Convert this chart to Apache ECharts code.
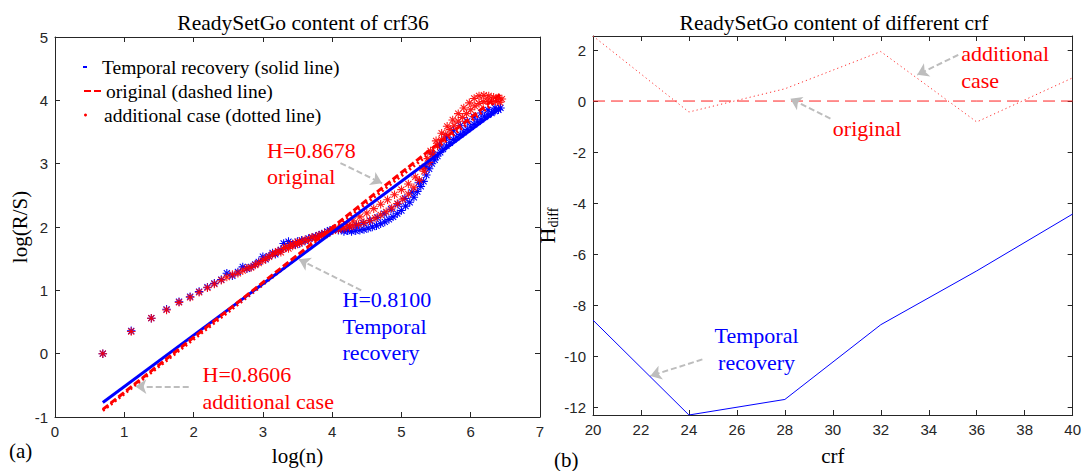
<!DOCTYPE html>
<html><head><meta charset="utf-8">
<script src="https://cdn.jsdelivr.net/npm/echarts@6/dist/echarts.min.js"></script>
<style>html,body{margin:0;padding:0;background:#fff}#c{width:1084px;height:471px}</style>
</head><body><div id="c"></div>
<script>
// ===== data: panel (a) =====
const temporalPoints = [
 [0.69,0.00],[1.10,0.36],[1.39,0.56],[1.61,0.70],[1.79,0.82],[1.95,0.90],[2.08,0.98],[2.20,1.05],[2.30,1.11],[2.40,1.17],
 [2.48,1.27],[2.56,1.23],[2.64,1.29],[2.71,1.37],[2.77,1.34],[2.83,1.37],[2.89,1.41],[2.94,1.45],[3.00,1.53],[3.04,1.49],
 [3.09,1.54],[3.14,1.59],[3.18,1.57],[3.22,1.61],[3.26,1.64],[3.30,1.74],[3.33,1.67],[3.37,1.77],[3.40,1.71],[3.43,1.73],
 [3.47,1.72],[3.50,1.77],[3.53,1.74],[3.56,1.79],[3.61,1.78],[3.66,1.82],[3.71,1.83],[3.76,1.85],[3.81,1.87],[3.85,1.89],
 [3.89,1.90],[3.93,1.93],[3.97,1.95],[4.01,1.96],[4.05,1.97],[4.09,1.95],[4.13,1.97],[4.17,1.93],
 [4.22,1.94],[4.28,1.93],[4.34,1.94],[4.40,1.95],[4.46,1.96],[4.52,1.98],[4.58,2.00],[4.64,2.02],[4.70,2.05],[4.76,2.08],
 [4.82,2.12],[4.88,2.16],[4.94,2.21],[5.00,2.26],[5.06,2.33],[5.12,2.39],[5.18,2.47],[5.23,2.56],[5.28,2.64],[5.32,2.72],
 [5.36,2.82],[5.40,2.92],[5.44,3.00],[5.48,3.06],[5.52,3.12],[5.56,3.18],[5.60,3.23],[5.65,3.28],[5.70,3.33],[5.75,3.38],
 [5.80,3.42],[5.85,3.46],[5.90,3.50],[5.95,3.54],[6.00,3.58],[6.05,3.62],[6.10,3.66],[6.15,3.70],[6.20,3.74],[6.25,3.77],
 [6.30,3.80],[6.35,3.83],[6.40,3.85],
 [4.25,2.00],[4.35,2.03],[4.45,2.06],[4.55,2.10],[4.65,2.15],[4.75,2.21],[4.85,2.28],[4.95,2.36],[5.05,2.45],[5.15,2.55],
 [5.25,2.70],[5.35,2.95],[5.45,3.15],[5.55,3.30],[5.65,3.42],[5.75,3.52],[5.85,3.60],[5.95,3.67],[6.05,3.74],[6.15,3.80],
 [6.25,3.85],[6.35,3.88],[6.43,3.88]
];
const originalPoints = [
 [0.69,0.00],[1.10,0.35],[1.39,0.56],[1.61,0.69],[1.79,0.81],[1.95,0.89],[2.08,0.97],[2.20,1.04],[2.30,1.10],[2.40,1.16],
 [2.48,1.21],[2.56,1.25],[2.64,1.27],[2.71,1.31],[2.77,1.35],[2.83,1.36],[2.89,1.40],[2.94,1.43],[3.00,1.47],[3.04,1.50],
 [3.09,1.53],[3.14,1.57],[3.18,1.59],[3.22,1.62],[3.26,1.60],[3.30,1.66],[3.33,1.68],[3.37,1.66],[3.40,1.72],[3.43,1.70],
 [3.47,1.75],[3.50,1.73],[3.53,1.77],[3.56,1.76],[3.61,1.80],[3.66,1.79],[3.71,1.84],[3.76,1.83],[3.81,1.87],[3.85,1.86],
 [3.89,1.90],[3.93,1.89],[3.97,1.93],[4.01,1.94],[4.05,1.98],[4.09,1.96],[4.13,2.00],[4.17,1.98],[4.21,2.04],[4.25,2.00],
 [4.30,2.02],[4.38,2.04],[4.46,2.07],[4.54,2.10],[4.62,2.14],[4.70,2.19],[4.78,2.24],[4.86,2.30],[4.94,2.37],[5.02,2.44],
 [5.10,2.52],[5.18,2.62],[5.26,2.74],[5.33,2.88],[5.40,3.02],[5.46,3.14],
 [4.30,2.10],[4.40,2.16],[4.50,2.22],[4.60,2.29],[4.70,2.36],[4.80,2.43],[4.90,2.51],[5.00,2.59],[5.10,2.68],[5.20,2.79],
 [5.30,2.93],[5.38,3.08],
 [5.52,3.28],[5.58,3.38],[5.64,3.46],[5.70,3.54],[5.76,3.60],[5.82,3.67],[5.88,3.73],[5.94,3.79],[6.00,3.85],[6.06,3.91],
 [6.12,3.95],[6.18,3.98],[6.24,3.99],[6.30,3.99],[6.36,3.98],[6.42,3.97],
 [5.42,3.20],[5.50,3.36],[5.58,3.48],[5.66,3.59],[5.74,3.69],[5.82,3.79],[5.90,3.88],[5.98,3.96],[6.05,4.03],[6.12,4.07],
 [6.19,4.08],[6.26,4.07],[6.33,4.05],[6.40,4.04],[6.45,4.02]
];
const fitX = [0.69, 6.43];
const temporalFitY = [-0.77, 3.88];
const originalFitY = [-0.88, 4.10];
const additionalFitY = [-0.90, 4.04];

// ===== data: panel (b) =====
const crf = [20, 24, 28, 32, 36, 40];
const temporalDiff = [-8.59, -12.31, -11.70, -8.77, -6.66, -4.43];
const originalDiff = [0, 0, 0, 0, 0, 0];
const additionalDiff = [2.55, -0.43, 0.48, 1.94, -0.82, 0.91];
const hdiffTicks = [-12, -10, -8, -6, -4, -2, 0, 2];

// ===== annotations =====
const leftNotes = [
 {text:'H=0.8678\noriginal', at:[3.06, 3.00], color:'#ff0000', align:'left'},
 {text:'H=0.8100\nTemporal\nrecovery', at:[4.15, 0.43], color:'#0000ff', align:'left'},
 {text:'H=0.8606\nadditional case', at:[2.13, -0.54], color:'#ff0000', align:'left'}
];
const leftArrows = [[4.12, 3.01, 4.72, 2.69], [4.42, 1.00, 3.52, 1.49], [1.93, -0.52, 1.16, -0.52]];
const rightNotes = [
 {text:'additional\ncase', at:[35.35, 1.33], color:'#ff0000', align:'left'},
 {text:'original', at:[30.0, -1.08], color:'#ff0000', align:'left'},
 {text:'Temporal\nrecovery', at:[26.82, -9.73], color:'#0000ff', align:'center'}
];
const rightArrows = [[35.23, 1.81, 33.52, 1.03], [29.9, -0.69, 28.23, 0.09], [24.56, -10.13, 22.39, -10.78]];

const SERIF = "'Liberation Serif', 'Times New Roman', serif";
const SANS = "'Liberation Sans', Arial, sans-serif";
const AX = '#262626';
const asterisk = 'path://M8.75,0h2.5v20h-2.5z M0,8.75h20v2.5h-20z M2,3.77L3.77,2L18,16.23L16.23,18z M18,3.77L3.77,18L2,16.23L16.23,2z';

function zip(xs, ys) { return xs.map((x, i) => [x, ys[i]]); }
function axis(grid, pos, min, max, interval, extra) {
  const main = pos === 'bottom' || pos === 'left';
  return Object.assign({
    gridIndex: grid, type: 'value', position: pos, min: min, max: max, interval: interval,
    axisLine: {show: true, onZero: false, lineStyle: {color: AX, width: 1}},
    axisTick: {show: true, inside: true, length: 5, lineStyle: {color: AX}},
    axisLabel: {show: main, color: AX, fontFamily: SANS, fontSize: 15, margin: 7},
    splitLine: {show: false}
  }, extra || {});
}
function arrowSeries(xi, yi, arrows) {
  return {
    type: 'scatter', xAxisIndex: xi, yAxisIndex: yi, symbolSize: 0, silent: true, z: 10, data: [],
    markLine: {
      silent: true, symbol: ['none', 'arrow'], symbolSize: 11, animation: false,
      label: {show: false}, emphasis: {disabled: true},
      lineStyle: {color: '#bdbdbd', width: 2, type: [6, 3], opacity: 1},
      data: arrows.map(a => [{coord: [a[0], a[1]]}, {coord: [a[2], a[3]]}])
    }
  };
}
const legendText = {fontFamily: SERIF, fontSize: 19.5, color: '#000'};

const option = {
  animation: false,
  backgroundColor: '#fff',
  grid: [
    {left: 55, right: 544, top: 37, bottom: 50, containLabel: false},
    {left: 593, right: 9, top: 36, bottom: 52, containLabel: false}
  ],
  xAxis: [
    axis(0, 'bottom', 0, 7, 1, {name: 'log(n)', nameLocation: 'middle', nameGap: 28,
      nameTextStyle: {fontFamily: SERIF, fontSize: 21, color: '#000'}}),
    axis(0, 'top', 0, 7, 1),
    axis(1, 'bottom', 20, 40, 2, {name: 'crf', nameLocation: 'middle', nameGap: 30,
      nameTextStyle: {fontFamily: SERIF, fontSize: 21, color: '#000'}}),
    axis(1, 'top', 20, 40, 2)
  ],
  yAxis: [
    axis(0, 'left', -1, 5, 1, {name: 'log(R/S)', nameLocation: 'middle', nameGap: 19,
      nameTextStyle: {fontFamily: SERIF, fontSize: 21, color: '#000'}}),
    axis(0, 'right', -1, 5, 1),
    axis(1, 'left', -12.31, 2.55, null, {
      axisLabel: {show: true, color: AX, fontFamily: SANS, fontSize: 15, margin: 7, customValues: hdiffTicks},
      axisTick: {show: true, inside: true, length: 5, lineStyle: {color: AX}, customValues: hdiffTicks},
      name: '{h|H}{s|diff}', nameLocation: 'middle', nameGap: 21,
      nameTextStyle: {color: '#000', rich: {
        h: {fontFamily: SERIF, fontSize: 22, color: '#000'},
        s: {fontFamily: SERIF, fontSize: 14, color: '#000', padding: [12, 0, 0, 0]}
      }}}),
    axis(1, 'right', -12.31, 2.55, null, {
      axisTick: {show: true, inside: true, length: 5, lineStyle: {color: AX}, customValues: hdiffTicks}})
  ],
  legend: [
    {data: [{name: 'Temporal recovery (solid line)', icon: 'rect'}], left: 83, top: 57, padding: 0,
      itemWidth: 4, itemHeight: 2, selectedMode: false, itemStyle: {color: '#0000ff', borderWidth: 0},
      textStyle: Object.assign({padding: [0, 0, 0, 10]}, legendText)},
    {data: [{name: 'original (dashed line)', icon: 'path://M0,0h7v2h-7z M10,0h7v2h-7z'}], left: 84, top: 81, padding: 0,
      itemWidth: 17, itemHeight: 2, selectedMode: false, itemStyle: {color: '#ff0000', borderWidth: 0},
      textStyle: Object.assign({}, legendText)},
    {data: [{name: 'additional case (dotted line)', icon: 'circle'}], left: 84, top: 105, padding: 0,
      itemWidth: 3, itemHeight: 3, selectedMode: false, itemStyle: {color: '#ff0000', borderWidth: 0},
      textStyle: Object.assign({padding: [0, 0, 0, 12]}, legendText)}
  ],
  graphic: [
    {type: 'text', x: 303, y: 23, style: {text: 'ReadySetGo content of crf36', fontFamily: SERIF, fontSize: 21.5, fill: '#000', align: 'center', verticalAlign: 'middle'}, z: 20},
    {type: 'text', x: 834, y: 23, style: {text: 'ReadySetGo content of different crf', fontFamily: SERIF, fontSize: 21.5, fill: '#000', align: 'center', verticalAlign: 'middle'}, z: 20},
    {type: 'text', x: 9, y: 451, style: {text: '(a)', fontFamily: SERIF, fontSize: 21, fill: '#000', align: 'left', verticalAlign: 'middle'}, z: 20},
    {type: 'text', x: 554, y: 460, style: {text: '(b)', fontFamily: SERIF, fontSize: 21, fill: '#000', align: 'left', verticalAlign: 'middle'}, z: 20}
  ],
  series: [
    {type: 'scatter', xAxisIndex: 0, yAxisIndex: 0, symbol: asterisk, symbolSize: 8.5, silent: true, z: 2,
      itemStyle: {color: '#0000ff', opacity: 1}, data: temporalPoints},
    {type: 'scatter', xAxisIndex: 0, yAxisIndex: 0, symbol: asterisk, symbolSize: 8.5, silent: true, z: 3,
      itemStyle: {color: '#ff0000', opacity: 0.9}, data: originalPoints},
    {name: 'additional case (dotted line)', type: 'line', xAxisIndex: 0, yAxisIndex: 0, color: '#ff0000',
      symbol: 'none', silent: true, z: 4, lineStyle: {color: '#ff0000', width: 3, type: [2, 3]}, data: zip(fitX, additionalFitY)},
    {name: 'Temporal recovery (solid line)', type: 'line', xAxisIndex: 0, yAxisIndex: 0, color: '#0000ff',
      symbol: 'none', silent: true, z: 5, lineStyle: {color: '#0000ff', width: 3}, data: zip(fitX, temporalFitY)},
    {name: 'original (dashed line)', type: 'line', xAxisIndex: 0, yAxisIndex: 0, color: '#ff0000',
      symbol: 'none', silent: true, z: 6, lineStyle: {color: '#ff0000', width: 3, type: [7, 3]}, data: zip(fitX, originalFitY)},
    {name: 'Temporal recovery', type: 'line', xAxisIndex: 2, yAxisIndex: 2, symbol: 'none', silent: true, z: 5,
      lineStyle: {color: '#0000ff', width: 1}, data: zip(crf, temporalDiff)},
    {name: 'original', type: 'line', xAxisIndex: 2, yAxisIndex: 2, symbol: 'none', silent: true, z: 4,
      lineStyle: {color: '#ff2020', width: 1, type: [12, 6]}, data: zip(crf, originalDiff)},
    {name: 'additional case', type: 'line', xAxisIndex: 2, yAxisIndex: 2, symbol: 'none', silent: true, z: 4,
      lineStyle: {color: '#ff3030', width: 1, type: [1.2, 3]}, data: zip(crf, additionalDiff)},
    arrowSeries(0, 0, leftArrows),
    arrowSeries(2, 2, rightArrows)
  ]
};
const chart = echarts.init(document.getElementById('c'), null, {renderer: 'svg'});
chart.setOption(option);

// annotation texts placed through the chart's own coordinate conversion
function noteGraphics(notes, gridIndex) {
  return notes.map(n => {
    const p = chart.convertToPixel({gridIndex: gridIndex}, n.at);
    return {type: 'text', x: p[0], y: p[1], z: 20, silent: true,
      style: {text: n.text, fill: n.color, fontFamily: SERIF, fontSize: 22, lineHeight: 26.5,
        align: n.align, verticalAlign: 'middle'}};
  });
}
chart.setOption({graphic: option.graphic.concat(noteGraphics(leftNotes, 0), noteGraphics(rightNotes, 1))});
</script>
</body></html>
